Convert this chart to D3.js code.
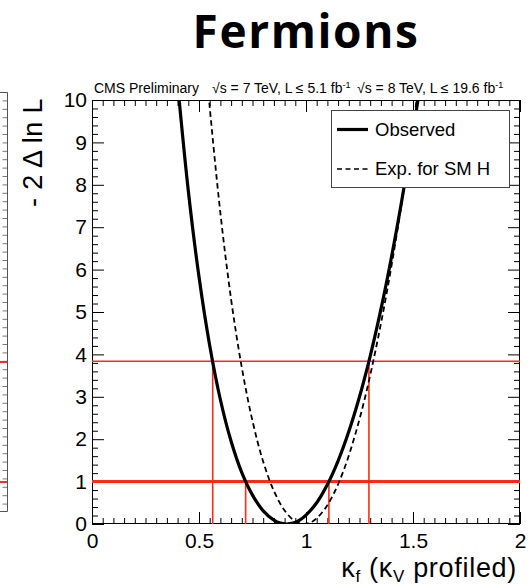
<!DOCTYPE html>
<html>
<head>
<meta charset="utf-8">
<script src="https://cdn.jsdelivr.net/npm/d3@7/dist/d3.min.js"></script>
<style>
  html, body { margin: 0; padding: 0; background: #fff; }
  svg { display: block; }
</style>
</head>
<body>
<script>
// Likelihood scan of the fermion coupling modifier (kappa_V profiled)
const kappaObs = [0.40, 0.45, 0.50, 0.55, 0.60, 0.65, 0.70, 0.75, 0.80, 0.85, 0.88, 0.91,
                  0.94, 0.97, 1.00, 1.05, 1.10, 1.15, 1.20, 1.25, 1.30, 1.35, 1.40, 1.45, 1.50, 1.55];
const nllObs   = [10.39, 7.86, 5.83, 4.21, 2.93, 1.95, 1.21, 0.68, 0.31, 0.09, 0.02, 0.00,
                  0.02, 0.09, 0.21, 0.50, 0.93, 1.49, 2.18, 3.00, 3.96, 5.06, 6.31, 7.70, 9.23, 10.93];

const kappaExp = [0.53, 0.55, 0.60, 0.65, 0.70, 0.75, 0.80, 0.85, 0.90, 0.95, 0.99,
                  1.03, 1.08, 1.13, 1.18, 1.23, 1.28, 1.33, 1.38, 1.43, 1.48, 1.53];
const nllExp   = [11.00, 9.84, 7.33, 5.30, 3.69, 2.43, 1.47, 0.78, 0.32, 0.06, 0.00,
                  0.06, 0.30, 0.72, 1.32, 2.11, 3.07, 4.22, 5.53, 7.02, 8.67, 10.48];

// Confidence-level thresholds and the observed intervals where the scan crosses them
const clLevels = [1.0, 3.84];
const obsInterval68 = [0.718, 1.107];
const obsInterval95 = [0.564, 1.294];

const xMajor = [0, 0.5, 1, 1.5, 2];
const yMajor = [0, 1, 2, 3, 4, 5, 6, 7, 8, 9, 10];
const xMinor = d3.range(0, 41).map(i => i * 0.05).filter(v => Math.abs(v / 0.5 - Math.round(v / 0.5)) > 1e-6);
const yMinor = d3.range(0, 51).map(i => i * 0.2).filter(v => Math.abs(v - Math.round(v)) > 1e-6);

const legendEntries = ["Observed", "Exp. for SM H"];

const W = 532, H = 585;
const plot = { left: 92, right: 520, top: 100, bottom: 524 };
const FONT = "'Liberation Sans', Arial, Helvetica, sans-serif";

const svg = d3.select("body").append("svg").attr("width", W).attr("height", H);

const x = d3.scaleLinear().domain([0, 2]).range([plot.left, plot.right]);
const y = d3.scaleLinear().domain([0, 10]).range([plot.bottom, plot.top]);

// neighbouring panel edge (cut at the left border)
const side = svg.append("g").attr("stroke", "#555").attr("fill", "none");
side.append("path").attr("d", "M0,92.5H7.5V511.5H0").attr("stroke-width", 1);
const sideTicks = d3.range(0, 50).map(i => 92.5 + i * 8.4);
side.selectAll("line.t").data(sideTicks).join("line")
  .attr("x1", 7.5).attr("x2", 2.5).attr("y1", d => d).attr("y2", d => d).attr("stroke-width", 0.8);
svg.append("g").selectAll("line").data([362, 482]).join("line")
  .attr("x1", 0).attr("x2", 7).attr("y1", d => d).attr("y2", d => d)
  .attr("stroke", "#ff2a1a").attr("stroke-width", 2);

// Title
svg.append("text").attr("x", 306).attr("y", 48).attr("text-anchor", "middle")
  .attr("font-family", "'Open Sans', 'Noto Sans', sans-serif").attr("font-weight", 700)
  .attr("font-size", 46).attr("letter-spacing", 1.6).attr("fill", "#000").text("Fermions");

// Header line
const header = svg.append("text").attr("y", 93).attr("font-family", FONT).attr("font-size", 14).attr("fill", "#000");
header.append("tspan").attr("x", 94).text("CMS Preliminary");
header.append("tspan").attr("x", 212).text("√s = 7 TeV, L ≤ 5.1 fb");
header.append("tspan").attr("dy", -5).attr("font-size", 9).text("-1");
header.append("tspan").attr("x", 357).attr("dy", 5).text("√s = 8 TeV, L ≤ 19.6 fb");
header.append("tspan").attr("dy", -5).attr("font-size", 9).text("-1");

const clipId = "plotArea";
svg.append("clipPath").attr("id", clipId).append("rect")
  .attr("x", plot.left).attr("y", plot.top)
  .attr("width", plot.right - plot.left).attr("height", plot.bottom - plot.top);

// Axes with inward ticks on all four sides
function styleAxis(g) {
  g.select(".domain").remove();
  g.selectAll(".tick line").attr("stroke", "#000").attr("stroke-width", 1);
  g.selectAll("text").attr("font-family", FONT).attr("font-size", 21).attr("fill", "#000");
}
const fmt = d3.format("~g");

svg.append("g").attr("transform", `translate(0,${plot.bottom})`)
  .call(d3.axisBottom(x).tickValues(xMajor).tickSize(-12).tickPadding(9).tickFormat(fmt)).call(styleAxis);
svg.append("g").attr("transform", `translate(0,${plot.bottom})`)
  .call(d3.axisBottom(x).tickValues(xMinor).tickSize(-6).tickFormat("")).call(styleAxis);
svg.append("g").attr("transform", `translate(0,${plot.top})`)
  .call(d3.axisTop(x).tickValues(xMajor).tickSize(-12).tickFormat("")).call(styleAxis);
svg.append("g").attr("transform", `translate(0,${plot.top})`)
  .call(d3.axisTop(x).tickValues(xMinor).tickSize(-6).tickFormat("")).call(styleAxis);

svg.append("g").attr("transform", `translate(${plot.left},0)`)
  .call(d3.axisLeft(y).tickValues(yMajor).tickSize(-12).tickPadding(5).tickFormat(fmt)).call(styleAxis);
svg.append("g").attr("transform", `translate(${plot.left},0)`)
  .call(d3.axisLeft(y).tickValues(yMinor).tickSize(-6).tickFormat("")).call(styleAxis);
svg.append("g").attr("transform", `translate(${plot.right},0)`)
  .call(d3.axisRight(y).tickValues(yMajor).tickSize(-12).tickFormat("")).call(styleAxis);
svg.append("g").attr("transform", `translate(${plot.right},0)`)
  .call(d3.axisRight(y).tickValues(yMinor).tickSize(-6).tickFormat("")).call(styleAxis);

// Frame
svg.append("rect").attr("x", plot.left + 0.5).attr("y", plot.top + 0.5)
  .attr("width", plot.right - plot.left - 1).attr("height", plot.bottom - plot.top - 1)
  .attr("fill", "none").attr("stroke", "#000").attr("stroke-width", 1);

// Confidence-level lines
const red = "#ff2a1a";
const clg = svg.append("g").attr("stroke", red).attr("fill", "none");
clg.append("line").attr("x1", x(0)).attr("x2", x(2)).attr("y1", y(clLevels[1])).attr("y2", y(clLevels[1])).attr("stroke-width", 1.6);
clg.append("line").attr("x1", x(0)).attr("x2", x(2)).attr("y1", y(clLevels[0])).attr("y2", y(clLevels[0])).attr("stroke-width", 3);
obsInterval68.forEach(k => clg.append("line").attr("x1", x(k)).attr("x2", x(k))
  .attr("y1", y(0)).attr("y2", y(clLevels[0])).attr("stroke-width", 1.6));
obsInterval95.forEach(k => clg.append("line").attr("x1", x(k)).attr("x2", x(k))
  .attr("y1", y(0)).attr("y2", y(clLevels[1])).attr("stroke-width", 1.6));

// Scan curves
const line = d3.line().x(d => x(d[0])).y(d => y(d[1])).curve(d3.curveCatmullRom.alpha(0.5));
const curves = svg.append("g").attr("clip-path", `url(#${clipId})`);
curves.append("path").datum(d3.zip(kappaExp, nllExp)).attr("d", line)
  .attr("fill", "none").attr("stroke", "#000").attr("stroke-width", 1.8).attr("stroke-dasharray", "5.5,3.5");
curves.append("path").datum(d3.zip(kappaObs, nllObs)).attr("d", line)
  .attr("fill", "none").attr("stroke", "#000").attr("stroke-width", 3.2);

// Legend
const lg = svg.append("g");
lg.append("rect").attr("x", 331.5).attr("y", 110.5).attr("width", 178).attr("height", 77)
  .attr("fill", "#fff").attr("stroke", "#444").attr("stroke-width", 1);
lg.append("line").attr("x1", 337).attr("x2", 368).attr("y1", 129.5).attr("y2", 129.5)
  .attr("stroke", "#000").attr("stroke-width", 3.2);
lg.append("line").attr("x1", 337).attr("x2", 368).attr("y1", 169).attr("y2", 169)
  .attr("stroke", "#000").attr("stroke-width", 1.4).attr("stroke-dasharray", "5,3.5");
lg.selectAll("text").data(legendEntries).join("text")
  .attr("x", 375).attr("y", (d, i) => 136 + i * 38.5)
  .attr("font-family", FONT).attr("font-size", 18.5).attr("fill", "#000").text(d => d);

// Axis titles
const xt = svg.append("text").attr("x", 517).attr("y", 577).attr("text-anchor", "end")
  .attr("font-family", FONT).attr("font-size", 27).attr("letter-spacing", 0.7).attr("fill", "#000");
xt.append("tspan").text("κ");
xt.append("tspan").attr("font-size", 17).attr("dy", 5).text("f");
xt.append("tspan").attr("dy", -5).text(" (κ");
xt.append("tspan").attr("font-size", 17).attr("dy", 5).text("V");
xt.append("tspan").attr("dy", -5).text(" profiled)");

svg.append("text").attr("transform", "translate(42,98) rotate(-90)").attr("text-anchor", "end")
  .attr("font-family", FONT).attr("font-size", 27).attr("letter-spacing", 0.4).attr("fill", "#000").text("- 2 Δ ln L");
</script>
</body>
</html>
